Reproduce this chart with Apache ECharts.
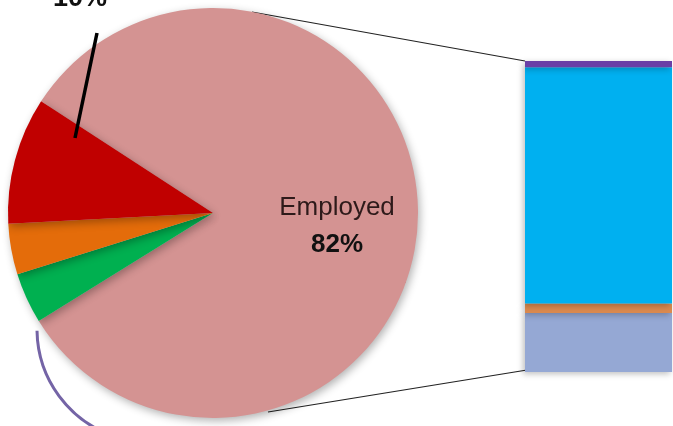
<!DOCTYPE html>
<html>
<head>
<meta charset="utf-8">
<script src="https://cdn.jsdelivr.net/npm/echarts@6/dist/echarts.min.js"></script>
<style>
  html, body { margin: 0; padding: 0; background: #fff; }
  #chart { width: 673px; height: 426px; }
</style>
</head>
<body>
<div id="chart"></div>
<script>
// pie slices, clockwise from the upper-left edge of the big slice
const pieNames = ['Employed', 'Green', 'Orange', 'Red']
const pieValues = [82, 4, 4, 10]
const pieColors = ['#d49392', '#00b050', '#e46c0a', '#c00000']

// breakdown column, bottom to top
const barNames = ['Grey', 'Orange', 'Blue', 'Purple']
const barValues = [19, 3, 76, 2]
const barColors = ['#95a8d4', '#db8a4f', '#00b0f0', '#6a3fa6']

const chart = echarts.init(document.getElementById('chart'))

const pieData = pieNames.map((name, i) => ({
  name,
  value: pieValues[i],
  itemStyle: { color: pieColors[i] },
  label: { show: name === 'Employed' },
}))

const barSeries = barNames.map((name, i) => ({
  name,
  type: 'bar',
  stack: 'other',
  barWidth: '100%',
  data: [barValues[i]],
  itemStyle: {
    color: barColors[i],
    shadowBlur: 6,
    shadowColor: 'rgba(0,0,0,0.25)',
    shadowOffsetX: -2,
    shadowOffsetY: 2,
  },
  silent: true,
}))

const redValue = pieValues[pieNames.indexOf('Red')]

chart.setOption({
  animation: false,
  grid: { left: 525, top: 61, width: 147, bottom: 54 },
  xAxis: { type: 'category', data: ['Other'], show: false },
  yAxis: { type: 'value', min: 0, max: 100, show: false },
  graphic: [
    { type: 'line', shape: { x1: 252, y1: 12, x2: 525, y2: 61 }, style: { stroke: '#222', lineWidth: 1.2 } },
    { type: 'line', shape: { x1: 268, y1: 412, x2: 527, y2: 370 }, style: { stroke: '#222', lineWidth: 1.2 } },
    {
      type: 'arc',
      shape: { cx: 150, cy: 329, r: 113, startAngle: Math.PI * 0.6, endAngle: Math.PI * 0.995, clockwise: true },
      style: { stroke: '#7464a6', lineWidth: 3, fill: null },
      z: 0,
    },
    // leader line and label of the red slice
    {
      type: 'line',
      shape: { x1: 75, y1: 138, x2: 97, y2: 33 },
      style: { stroke: '#000', lineWidth: 3.5 },
      z: 100,
    },
    {
      type: 'text',
      x: 80,
      y: 12,
      z: 100,
      style: {
        text: redValue + '%',
        fontFamily: 'Liberation Sans',
        fontSize: 27,
        fontWeight: 'bold',
        fill: '#111',
        align: 'center',
        verticalAlign: 'bottom',
      },
    },
  ],
  series: [
    {
      type: 'pie',
      center: [213, 213],
      radius: 205,
      startAngle: 147,
      clockwise: true,
      data: pieData,
      silent: true,
      itemStyle: {
        shadowBlur: 8,
        shadowColor: 'rgba(0,0,0,0.3)',
        shadowOffsetX: 2,
        shadowOffsetY: 3,
      },
      label: {
        position: 'inside',
        formatter: (p) => '{a|' + p.name + '}\n{b|' + p.value + '%}',
        rich: {
          a: { fontSize: 26, fontFamily: 'Liberation Sans', color: '#2e1a1a', lineHeight: 37 },
          b: { fontSize: 26, fontWeight: 'bold', fontFamily: 'Liberation Sans', color: '#111', lineHeight: 37 },
        },
      },
      labelLayout: () => ({ x: 337, y: 226, align: 'center', verticalAlign: 'middle' }),
    },
    ...barSeries,
  ],
})
</script>
</body>
</html>
